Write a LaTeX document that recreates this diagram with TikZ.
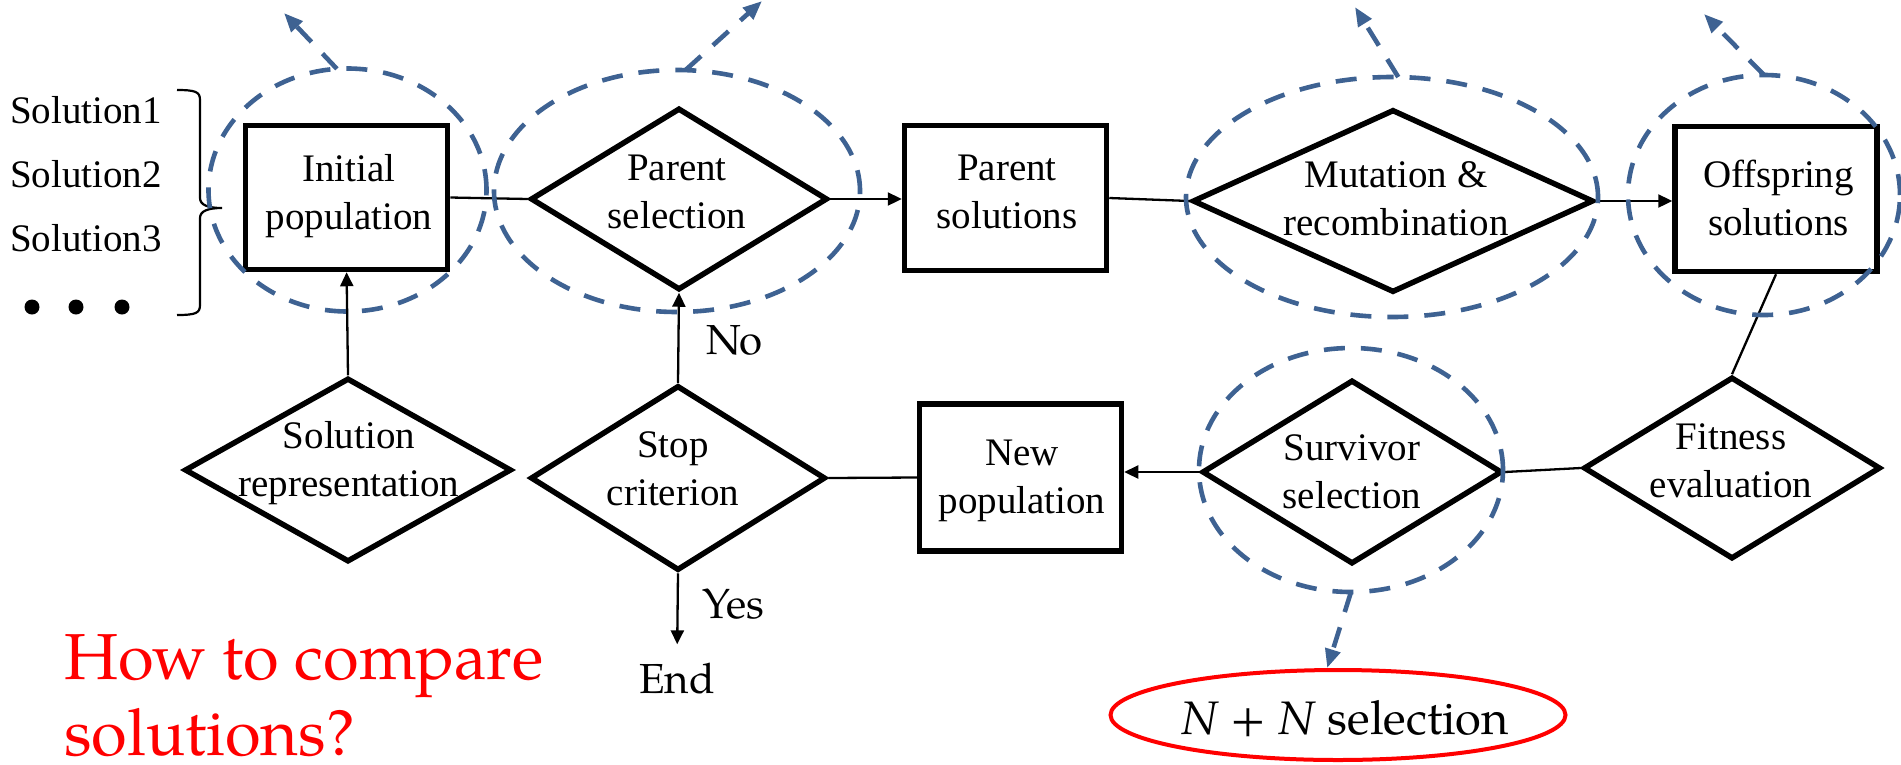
\documentclass[tikz,border=0pt]{standalone}
\usepackage{fontspec}
\setmainfont{Liberation Serif}
\newfontfamily\palfont{TeX Gyre Pagella}
\usetikzlibrary{shapes.geometric,arrows.meta}
\definecolor{dashblue}{RGB}{62,98,146}
\definecolor{pured}{RGB}{255,0,0}
\begin{document}
\begin{tikzpicture}[x=1pt,y=-1pt,
  box/.style={draw, line width=5.5pt, inner sep=0pt},
  dia/.style={diamond, draw, line width=5.5pt, inner sep=0pt},
  txt/.style={font=\fontsize{39}{48}\selectfont, align=center, inner sep=0pt, anchor=base},
  sol/.style={font=\fontsize{39}{48}\selectfont, inner sep=0pt, anchor=base west},
  lbl/.style={font=\palfont\fontsize{42}{50}\selectfont, inner sep=0pt},
  redq/.style={font=\palfont\fontsize{65}{77}\selectfont, text=pured, anchor=base west, inner sep=0pt},
  conn/.style={line width=2.3pt},
  arr/.style={line width=2.3pt, -{Triangle[length=14pt,width=13pt]}},
  dell/.style={ellipse, draw=dashblue, line width=4.6pt, dash pattern=on 21pt off 16pt, inner sep=0pt, outer sep=0pt},
  darr/.style={dashblue, line width=4.6pt, dash pattern=on 21pt off 16pt, -{Triangle[length=19pt,width=15pt]}}
]
\fill[white] (0,0) rectangle (1901,764);
\useasboundingbox (0,0) rectangle (1901,764);

% boxes
\node[box, minimum width=202pt, minimum height=144pt] (init) at (346.6,197.5) {};
\node[box, minimum width=202pt, minimum height=145pt] (parsol) at (1005.5,198) {};
\node[box, minimum width=202pt, minimum height=145pt] (offsol) at (1776,199) {};
\node[box, minimum width=202pt, minimum height=147pt] (newpop) at (1020.5,477.5) {};
% diamonds
\node[dia, minimum width=297pt, minimum height=182pt] (parsel) at (679,199) {};
\node[dia, minimum width=401pt, minimum height=183pt] (mutrec) at (1393,201) {};
\node[dia, minimum width=297pt, minimum height=182pt] (fitness) at (1732,468) {};
\node[dia, minimum width=300pt, minimum height=184pt] (survsel) at (1352,472) {};
\node[dia, minimum width=295pt, minimum height=185pt] (stopcrit) at (678,478) {};
\node[dia, minimum width=327pt, minimum height=184pt] (solrep) at (348,470) {};

% texts in shapes (base = last line)
\node[txt] (tinit) at (349,229) {Initial\\population};
\node[txt] (tparsel) at (677,228) {Parent\\selection};
\node[txt] (tparsol) at (1007,228) {Parent\\solutions};
\node[txt] (tmutrec) at (1396,235) {Mutation \&\\recombination};
\node[txt] (toffsol) at (1778.5,235) {Offspring\\solutions};
\node[txt] (tfit) at (1731,497) {Fitness\\evaluation};
\node[txt] (tsurv) at (1352,508) {Survivor\\selection};
\node[txt] (tnew) at (1022,513) {New\\population};
\node[txt] (tstop) at (673,505) {Stop\\criterion};
\node[txt] (tsolrep) at (349,496) {Solution\\representation};

% solution list
\node[sol] (s1) at (10,123) {Solution1};
\node[sol] (s2) at (10,187) {Solution2};
\node[sol] (s3) at (10,251) {Solution3};
\fill (32,307) circle (7.5pt);
\fill (76,307) circle (7.5pt);
\fill (122,307) circle (7.5pt);
\draw[line width=2.2pt] (177,90) .. controls (196,90) and (200,92) .. (200,100) -- (200,198)
  .. controls (200,205) and (208,208) .. (222,208)
  .. controls (208,208) and (200,211) .. (200,218) -- (200,305)
  .. controls (200,313) and (196,315) .. (177,315);

% labels
\node[lbl, anchor=base west] (no) at (706,354) {No};
\node[lbl, anchor=base west] (yes) at (702,618) {Yes};
\node[lbl, anchor=base] (endn) at (677,693) {End};
\node[redq] (q1) at (64,679) {How to compare};
\node[redq] (q2) at (64,755) {solutions?};

% red ellipse
\node[ellipse, draw=pured, line width=4pt, minimum width=455pt, minimum height=90pt, inner sep=0pt] (nn) at (1338,715) {};
\node[font=\palfont\fontsize{47}{56}\selectfont, anchor=base, inner sep=0pt] (nntext) at (1345,734) {\textit{N} + \textit{N} selection};

% connectors
\draw[conn] (init.east) -- (parsel.west);
\draw[arr] (parsel.east) -- (parsel.east -| parsol.west);
\draw[conn] (parsol.east) -- (mutrec.west);
\draw[arr] (mutrec.east) -- (mutrec.east -| offsol.west);
\draw[conn] (offsol.south) -- (fitness.north);
\draw[conn] (fitness.west) -- (survsel.east);
\draw[arr] (survsel.west) -- (survsel.west -| newpop.east);
\draw[conn] (newpop.west) -- (stopcrit.east);
\draw[arr] (stopcrit.north) -- (parsel.south);
\draw[arr, shorten >=18pt] (stopcrit.south) -- (endn.north);
\draw[arr] (solrep.north) -- (init.south);

% dashed ellipses
\node[dell, minimum width=278pt, minimum height=243pt] (e1) at (347.5,190) {};
\node[dell, minimum width=366pt, minimum height=242pt] (e2) at (677,191) {};
\node[dell, minimum width=412pt, minimum height=240pt] (e3) at (1392,197) {};
\node[dell, minimum width=272pt, minimum height=240pt] (e4) at (1764,195) {};
\node[dell, minimum width=304pt, minimum height=244pt] (e5) at (1351,470) {};

\coordinate (t1) at (284,13);
\coordinate (t2) at (762,1);
\coordinate (t3) at (1355,7);
\coordinate (t4) at (1704,14);
\draw[darr] (e1.95) -- (t1);
\draw[darr] (e2.86) -- (t2);
\draw[darr] (e3.87) -- (t3);
\draw[darr] (e4.north) -- (t4);
\draw[darr] (e5.south) -- (nn.103);
\end{tikzpicture}
\end{document}
